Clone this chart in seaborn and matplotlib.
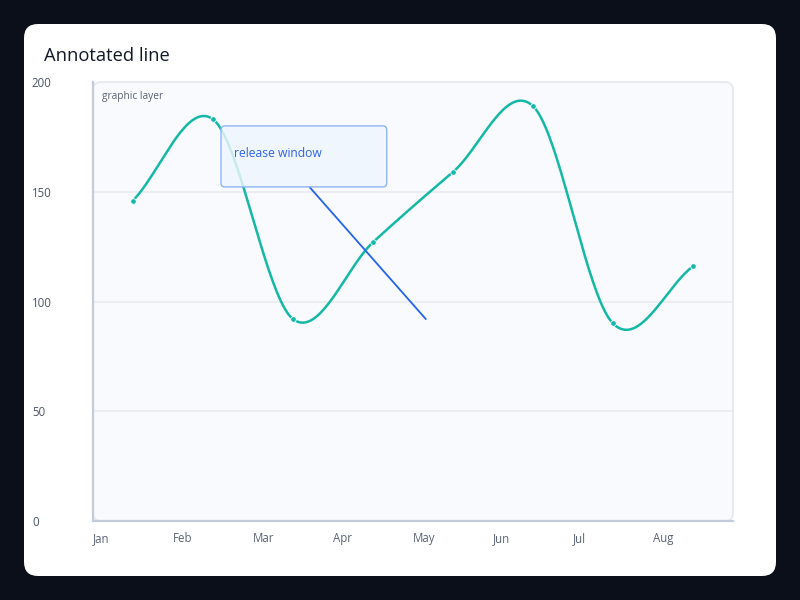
import numpy as np
import pandas as pd
import matplotlib
matplotlib.use('Agg')
import matplotlib.pyplot as plt
from matplotlib.patches import FancyBboxPatch
import seaborn as sns

# chart values
months = ['Jan', 'Feb', 'Mar', 'Apr', 'May', 'Jun', 'Jul', 'Aug']
values = [146, 183, 92, 127, 159, 189, 90, 116]
y_ticks = [0, 50, 100, 150, 200]

# annotation (data coords): leader line from box edge to target
note_text = 'release window'
leader_x = [2.21, 3.66]
leader_y = [152, 92]

teal = '#14b8a6'
blue = '#2563eb'


def catmull_rom(y, n=40):
    # smooth curve through the points (cardinal spline, tension 0)
    y = np.asarray(y, float)
    m = np.empty_like(y)
    m[1:-1] = (y[2:] - y[:-2]) / 2
    m[0] = y[1] - y[0]
    m[-1] = y[-1] - y[-2]
    xs, ys = [], []
    for i in range(len(y) - 1):
        t = np.linspace(0, 1, n, endpoint=False)
        h00 = 2*t**3 - 3*t**2 + 1
        h10 = t**3 - 2*t**2 + t
        h01 = -2*t**3 + 3*t**2
        h11 = t**3 - t**2
        xs.append(i + t)
        ys.append(h00*y[i] + h10*m[i] + h01*y[i+1] + h11*m[i+1])
    xs.append([len(y) - 1])
    ys.append([y[-1]])
    return np.concatenate(xs), np.concatenate(ys)


sns.set_theme(style='white')
plt.rcParams['font.family'] = ['Open Sans', 'DejaVu Sans']

fig = plt.figure(figsize=(8, 6), dpi=100)
fig.patch.set_facecolor('#0b0f19')

card = FancyBboxPatch((24/800, 24/600), 752/800, 552/600,
                      boxstyle='round,pad=0,rounding_size=%f' % (14/800),
                      mutation_aspect=800/600, transform=fig.transFigure,
                      facecolor='white', edgecolor='none', zorder=-10)
fig.patches.append(card)

fig.text(44/800, 1 - 56/600, 'Annotated line', fontsize=13.2, color='#111827',
         va='center', ha='left')

ax = fig.add_axes([93/800, 79/600, 640/800, 439/600])
ax.set_facecolor('none')

bg = FancyBboxPatch((0, 0), 1, 1, boxstyle='round,pad=0,rounding_size=%f' % (8/640),
                    mutation_aspect=640/439, transform=ax.transAxes,
                    facecolor='#f8fafd', edgecolor='#e6eaf0', lw=1.3, zorder=0,
                    clip_on=False)
ax.add_patch(bg)

df = pd.DataFrame({'idx': np.arange(len(months)), 'month': months, 'value': values})

for yv in y_ticks[1:-1]:
    ax.axhline(yv, color='#e9edf3', lw=1.3, zorder=1)

sx, sy = catmull_rom(df['value'])
ax.plot(sx, sy, color=teal, lw=1.8, zorder=3, solid_capstyle='round')
sns.scatterplot(data=df, x='idx', y='value', color=teal, s=16, edgecolor='white',
                linewidth=0.6, zorder=4, ax=ax)

ax.plot(leader_x, leader_y, color=blue, lw=1.3, zorder=4)

box = FancyBboxPatch((0.2, 0.761), 0.259, 0.139,
                     boxstyle='round,pad=0,rounding_size=%f' % (4/640),
                     mutation_aspect=640/439, transform=ax.transAxes,
                     facecolor=(0.937, 0.965, 1.0, 0.82), edgecolor='#8fb4f3',
                     lw=1.0, zorder=5)
ax.add_patch(box)
ax.text(0.22, 0.838, note_text, transform=ax.transAxes, fontsize=8.7,
        color='#2f63e6', va='center', ha='left', zorder=6)

ax.text(9/640, 1 - 15/439, 'graphic layer', transform=ax.transAxes, fontsize=7.3,
        color='#5b6474', va='center', ha='left', zorder=6)

ax.set_xlim(-0.5, len(months) - 0.5)
ax.set_ylim(0, 200)
ax.set_xticks(np.arange(len(months)) - 0.5)
ax.set_xticklabels(months)
ax.set_yticks(y_ticks)
ax.set_yticklabels([str(v) for v in y_ticks])
ax.set_xlabel('')
ax.set_ylabel('')

ax.tick_params(axis='y', length=0, pad=44, labelsize=8.3, labelcolor='#4b5563')
ax.tick_params(axis='x', length=0, pad=8.2, labelsize=8.3, labelcolor='#5b6474')
for lbl in ax.get_yticklabels():
    lbl.set_ha('left')
for lbl in ax.get_xticklabels():
    lbl.set_ha('left')

for side in ['top', 'right']:
    ax.spines[side].set_visible(False)
for side in ['left', 'bottom']:
    ax.spines[side].set_color('#c3ccda')
    ax.spines[side].set_linewidth(1.6)
    ax.spines[side].set_zorder(2)

fig.savefig('out.png', dpi=100, facecolor=fig.get_facecolor())
